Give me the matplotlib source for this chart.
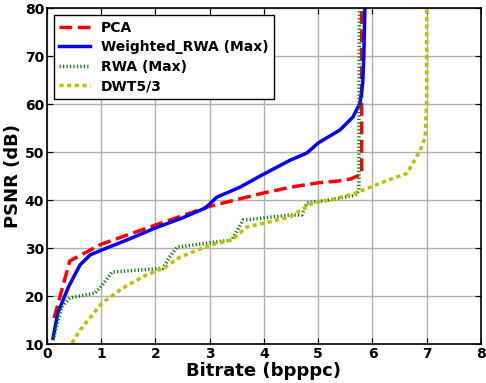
import matplotlib
matplotlib.use("Agg")
import matplotlib.pyplot as plt

# values (bitrate in bpppc, PSNR in dB)
pca_x = [0.13, 0.42, 1.0, 2.0, 3.0, 4.0, 4.5, 5.0, 5.4, 5.6, 5.78, 5.8, 5.8, 5.8]
pca_y = [15.4, 27.3, 30.8, 34.8, 38.7, 41.5, 42.7, 43.6, 44.0, 44.4, 45.3, 46.0, 60.0, 80.0]

wrwa_x = [0.11, 0.2, 0.4, 0.61, 0.8, 1.01, 1.5, 2.0, 2.5, 2.91, 3.0, 3.13, 3.56, 3.96,
          4.48, 4.79, 5.0, 5.4, 5.64, 5.77, 5.82, 5.84, 5.86]
wrwa_y = [11.2, 16.5, 22.0, 26.5, 28.6, 29.6, 31.8, 34.2, 36.3, 38.3, 39.2, 40.6, 42.7, 45.2,
          48.3, 49.8, 51.9, 54.6, 57.3, 60.2, 64.4, 70.0, 80.0]

rwa_x = [0.11, 0.27, 0.42, 0.88, 1.0, 1.2, 2.14, 2.25, 2.4, 3.41, 3.5, 3.61, 4.48, 4.7,
         4.79, 5.2, 5.68, 5.75, 5.75, 5.76]
rwa_y = [10.8, 17.7, 19.6, 20.6, 22.0, 25.0, 25.8, 28.0, 30.2, 31.7, 33.5, 35.8, 36.9, 36.9,
         39.4, 40.0, 41.0, 42.0, 60.0, 80.0]

dwt_x = [0.46, 0.61, 1.01, 1.4, 1.8, 2.18, 2.45, 3.0, 3.41, 3.69, 4.0, 4.48, 4.9, 5.3, 5.68,
         6.14, 6.64, 6.88, 6.97, 7.0, 7.0]
dwt_y = [10.2, 12.9, 18.5, 21.7, 24.2, 26.0, 28.1, 30.6, 31.7, 34.4, 35.2, 36.5, 39.4, 40.2, 41.4,
         43.5, 45.6, 50.4, 53.0, 60.8, 80.0]

fig = plt.figure(figsize=(4.86, 3.83), dpi=100)
ax = fig.add_axes([0.0967, 0.1018, 0.893, 0.877])

ax.plot(pca_x, pca_y, color="red", linestyle="--", linewidth=2.5, label="PCA")
ax.plot(wrwa_x, wrwa_y, color="blue", linestyle="-", linewidth=2.5, label="Weighted_RWA (Max)")
ax.plot(rwa_x, rwa_y, color="green", linestyle=(0, (0.35, 0.65)), linewidth=2.5, label="RWA (Max)")
ax.plot(dwt_x, dwt_y, color="#bfbf00", linestyle=(0, (1.2, 1.0)), linewidth=2.5, label="DWT5/3")

ax.set_xlim(0, 8)
ax.set_ylim(10, 80)
ax.set_xticks(range(0, 9))
ax.set_yticks(range(10, 81, 10))
ax.grid(True, color="#b0b0b0", linestyle="-", linewidth=1)
ax.set_axisbelow(True)
ax.tick_params(direction="in", top=True, right=True, length=4, labelsize=10, pad=2)
for lab in ax.get_xticklabels() + ax.get_yticklabels():
    lab.set_fontweight("bold")
for s in ax.spines.values():
    s.set_linewidth(1.2)

ax.set_xlabel("Bitrate (bpppc)", fontsize=13, fontweight="bold", labelpad=1)
ax.set_ylabel("PSNR (dB)", fontsize=13, fontweight="bold", labelpad=2)

leg = ax.legend(loc="upper left", fancybox=False, framealpha=1, edgecolor="black",
                prop={"weight": "bold", "size": 10}, handlelength=2.2,
                borderpad=0.4, labelspacing=0.4, borderaxespad=0.5)
leg.get_frame().set_linewidth(1)

fig.savefig("out.png", dpi=100)
